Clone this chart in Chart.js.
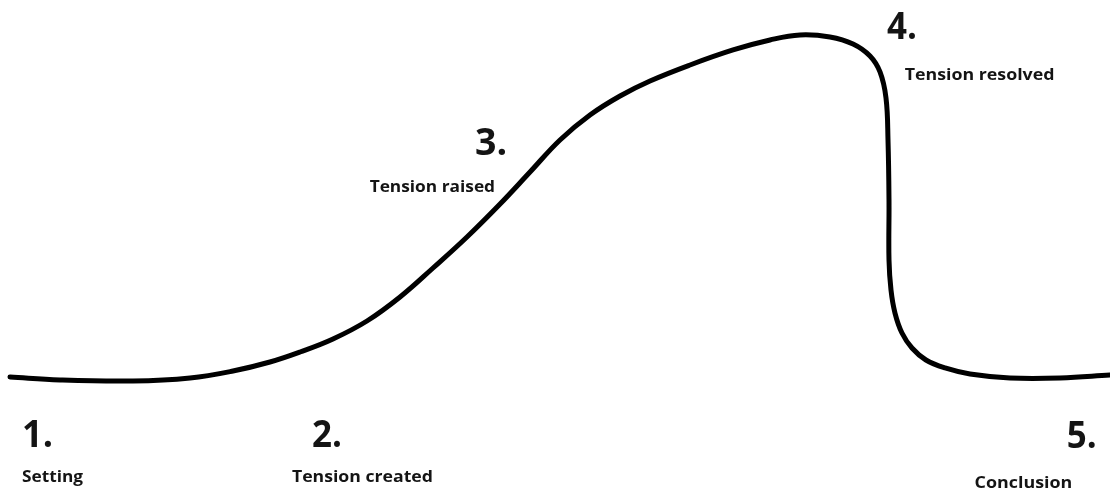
<!DOCTYPE html>
<html>
<head>
<meta charset="utf-8">
<script src="https://cdn.jsdelivr.net/npm/chart.js@4"></script>
<style>
  html, body { margin: 0; padding: 0; background: #ffffff; }
  #wrap { width: 1110px; height: 491px; position: relative; }
</style>
</head>
<body>
<div id="wrap"><canvas id="c"></canvas></div>
<script>
// Story progress (0-100) and tension level (0 = calm baseline, 100 = peak)
const progress = [0.90, 5.41, 11.98, 17.12, 20.99, 24.32, 27.03, 30.00, 33.06, 36.04, 39.01, 42.07, 45.05, 47.75, 50.45, 53.15, 55.86, 58.56, 62.16, 66.04, 69.37, 72.07, 74.77, 76.85, 78.38, 79.28, 79.82, 80.00, 80.09, 80.09, 80.27, 80.63, 81.26, 82.16, 83.42, 85.14, 87.39, 90.99, 95.50, 100];
const tension  = [0, -0.88, -1.18, -0.29, 1.76, 4.41, 7.35, 11.18, 16.47, 23.53, 32.06, 41.18, 50.88, 60.29, 69.71, 77.06, 82.65, 87.06, 91.76, 96.18, 99.12, 100.59, 100.0, 97.94, 94.41, 89.71, 82.06, 69.71, 52.06, 34.41, 25.59, 18.82, 12.94, 8.53, 5.0, 2.65, 0.88, -0.29, -0.29, 0.59];

// Stage labels
const stageNumbers = ["1.", "2.", "3.", "4.", "5."];
const stageNames   = ["Setting", "Tension created", "Tension raised", "Tension resolved", "Conclusion"];

// Label anchors in data units: [left, baseline, right]
const numberAnchors = [[1.98, -20.6, 4.77], [28.1, -20.6, 30.8], [42.8, 65.3, 45.7], [79.9, 99.4, 82.6], [96.1, -20.9, 98.8]];
const nameAnchors   = [[1.98, -30.9, 7.48], [26.3, -30.9, 39.0], [33.3, 54.4, 44.6], [81.5, 87.4, 95.0], [87.8, -32.6, 96.6]];

const points = progress.map((x, i) => ({ x: x, y: tension[i] }));

const labelPlugin = {
  id: 'stageLabels',
  afterDatasetsDraw(chart) {
    const ctx = chart.ctx;
    const xs = chart.scales.x, ys = chart.scales.y;
    function fitText(text, anchor, size) {
      const left = xs.getPixelForValue(anchor[0]);
      const base = ys.getPixelForValue(anchor[1]);
      const right = xs.getPixelForValue(anchor[2]);
      ctx.save();
      ctx.font = 'bold ' + size + 'px "Open Sans", "DejaVu Sans", sans-serif';
      ctx.fillStyle = '#141414';
      ctx.textBaseline = 'alphabetic';
      ctx.textAlign = 'left';
      const w = ctx.measureText(text).width;
      const sx = (right - left) / w;
      ctx.translate(left, base);
      ctx.scale(sx, 1);
      ctx.fillText(text, 0, 0);
      ctx.restore();
    }
    stageNumbers.forEach((t, i) => fitText(t, numberAnchors[i], 38));
    stageNames.forEach((t, i) => fitText(t, nameAnchors[i], 16));
  }
};

new Chart(document.getElementById('c'), {
  type: 'line',
  data: {
    datasets: [{
      data: points,
      borderColor: '#000000',
      borderWidth: 5,
      borderCapStyle: 'round',
      borderJoinStyle: 'round',
      pointRadius: 0,
      tension: 0.4,
      fill: false
    }]
  },
  options: {
    responsive: true,
    maintainAspectRatio: false,
    animation: false,
    layout: { padding: 0 },
    plugins: { legend: { display: false }, tooltip: { enabled: false } },
    scales: {
      x: { type: 'linear', min: 0, max: 100, display: false },
      y: { type: 'linear', min: -33.53, max: 110.88, display: false }
    }
  },
  plugins: [labelPlugin]
});
</script>
</body>
</html>
